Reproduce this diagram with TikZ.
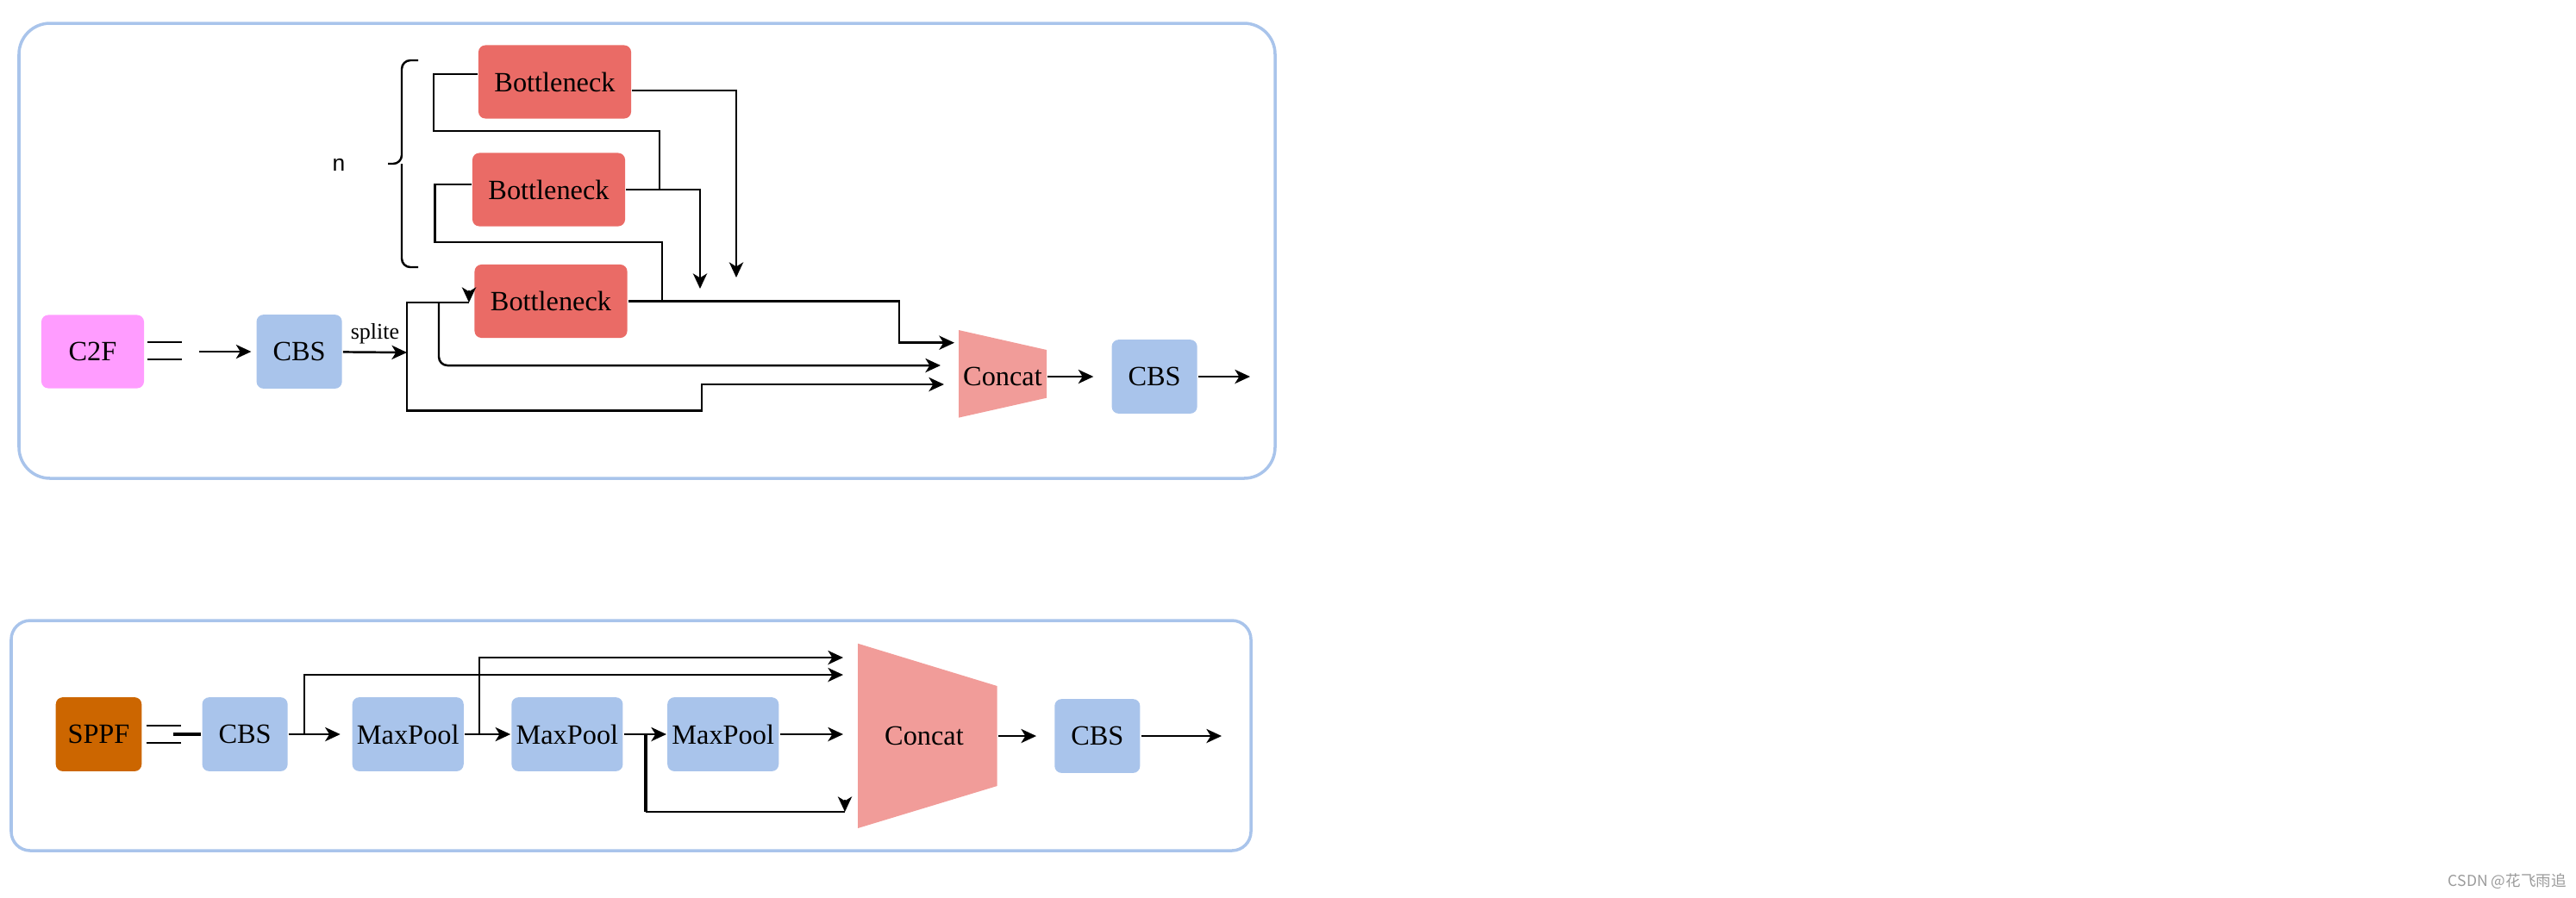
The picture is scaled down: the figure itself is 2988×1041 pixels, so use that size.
\documentclass[tikz,border=0pt]{standalone}
\usepackage{fontspec}
\setmainfont{Liberation Serif}
\setsansfont{Liberation Sans}
\newfontfamily\cjkfont{Noto Sans CJK SC}
\usetikzlibrary{positioning, arrows.meta}
\definecolor{blockblue}{HTML}{A9C4EB}
\definecolor{neckred}{HTML}{EA6B66}
\definecolor{catred}{HTML}{F19C99}
\definecolor{cfpink}{HTML}{FF9CFF}
\definecolor{sppforange}{HTML}{CC6600}
\definecolor{markgray}{HTML}{9B9B9B}
\tikzstyle{blk}=[rounded corners=0.08cm, inner sep=0pt, minimum height=0.857cm, font=\fontsize{9.2pt}{11pt}\selectfont]
\tikzstyle{cbs}=[blk, fill=blockblue, minimum width=0.99cm]
\tikzstyle{pool}=[blk, fill=blockblue, minimum width=1.29cm]
\tikzstyle{neck}=[blk, fill=neckred, minimum width=1.77cm, minimum height=0.85cm]
\tikzstyle{panel}=[draw=blockblue, line width=1pt]

\begin{document}
\begin{tikzpicture}[x=0.01cm, y=-0.01cm, line width=0.7pt, > = {Stealth[length=5pt,width=4.6pt,inset=1.4pt]}]
\useasboundingbox (0,0) rectangle (2988,1041);
\draw[panel, rounded corners=0.36cm] (22,27) rectangle (1479,555);
\draw[panel, rounded corners=0.22cm] (13,720) rectangle (1451,987);

\node [blk, fill=cfpink, minimum width=1.19cm, minimum height=0.85cm] (c2f) at (107.5,408) {C2F};
\node [cbs, right of=c2f, node distance=2.395cm] (cbs1) {CBS};
\node [neck] (b1) at (643.5,95) {Bottleneck};
\node [neck] (b2) at (636.5,220) {Bottleneck};
\node [neck] (b3) at (639,349.5) {Bottleneck};
\fill[catred] (1112,383) -- (1214,406) -- (1214,461.7) -- (1112,484.6) -- cycle;
\node [blk, minimum width=1.02cm] (cat1) at (1163,437) {Concat};
\node [cbs, right of=cat1, node distance=1.76cm] (cbs2) {CBS};
\node [font=\sffamily\fontsize{7.5pt}{9pt}\selectfont] (nlab) at (393,191) {n};
\coordinate (sp) at (472,409);
\coordinate (out1) at (1450,437);

\draw (c2f.east) ++(3,-11) -- ++(40,0) (c2f.east) ++(3,9) -- ++(40,0);
\draw[->] ([xshift=-0.65cm]cbs1.west) -- ([xshift=-0.05cm]cbs1.west);
\path[->] (cbs1) edge node[above, inner sep=2.5pt, font=\fontsize{7.4pt}{9pt}\selectfont] {splite} (sp);
\draw[->] (sp) |- (814,476.5) |- (1095,446);
\draw (sp) |- (544,351);
\draw[->] (544,337) -- (544,351);
\draw[->, rounded corners=0.1cm] (509,351) |- (1091,424);
\draw[->] (b3.east) -- ++(314,0) |- (1107,397.7);
\draw[->] (b2.east) -| (812,335);
\draw[->] ([yshift=-0.1cm]b1.east) -| (854,322);
\draw ([yshift=0.09cm]b1.west) -| (503,152) -| (765,220);
\draw ([yshift=0.06cm]b2.west) -| (504.5,281) -| (768,349.5);
\draw[rounded corners=0.1cm] (485,70) -| (466,190) -- (450,190);
\draw[rounded corners=0.1cm] (485,310) -| (466,190);
\path[->] (cat1) edge[shorten >=0.2cm] (cbs2);
\draw[->] (cbs2) -- (out1);

\node [blk, fill=sppforange, minimum width=0.995cm] (sppf) at (114.5,852) {SPPF};
\node [cbs, right of=sppf, node distance=1.695cm] (cbs3) {CBS};
\node [pool, right of=cbs3, node distance=1.89cm] (mp1) {MaxPool};
\node [pool, right of=mp1, node distance=1.846cm] (mp2) {MaxPool};
\node [pool, right of=mp2, node distance=1.807cm] (mp3) {MaxPool};
\fill[catred] (995,746.7) -- (1156.6,796) -- (1156.6,912) -- (995,961) -- cycle;
\node [blk, minimum width=1.69cm] (cat2) at (1072,854) {Concat};
\node [cbs, right of=cat2, node distance=2.007cm] (cbs4) {CBS};
\coordinate (out2) at (1417,854);

\draw (sppf.east) ++(4,-10) -- ++(40,0) (sppf.east) ++(4,10) -- ++(40,0);
\draw[line width=1.2pt] ([xshift=-0.32cm]cbs3.west) -- (cbs3.west);
\path[->] (cbs3) edge[shorten >=0.127cm] (mp1);
\path[->] (mp1) edge (mp2);
\path[->] (mp2) edge (mp3);
\draw[->] (mp3) -- (978,852);
\draw[->] ([xshift=0.18cm]cbs3.east) |- (978,783);
\draw[->] ([xshift=0.17cm]mp1.east) |- (978,763);
\draw[line width=1.1pt] ([xshift=0.25cm]mp2.east) -- ++(0,90);
\draw ([xshift=0.25cm]mp2.east) ++(0,90) -- (980,942);
\draw[->] (980,928) -- (980,942);
\path[->] (cat2) edge[shorten >=0.2cm] (cbs4);
\draw[->] (cbs4) -- (out2);

\node [anchor=east, inner sep=0pt, text=markgray, font=\cjkfont\fontsize{5pt}{6pt}\selectfont] (mark) at (2978,1023) {CSDN @花飞雨追};
\end{tikzpicture}
\end{document}
